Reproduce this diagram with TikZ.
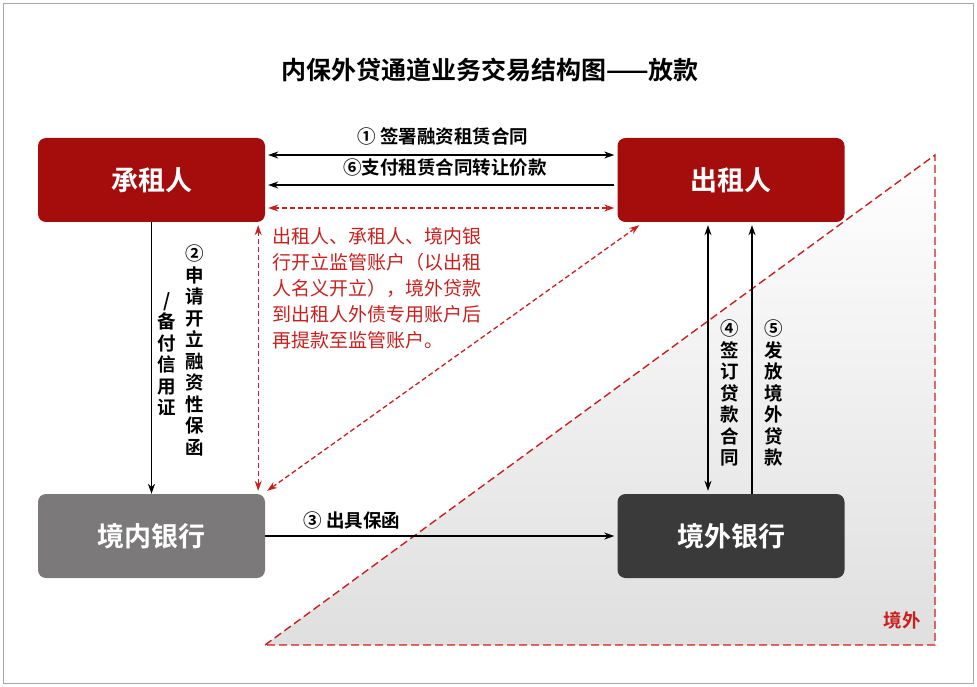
\documentclass[tikz,border=0pt]{standalone}
\usepackage{fontspec}
\setmainfont{Noto Sans CJK SC}
\newfontfamily\cjkb{Noto Sans CJK SC Bold}
\usetikzlibrary{arrows.meta}
\definecolor{dred}{HTML}{A50D0D}
\definecolor{lred}{HTML}{C8201E}
\definecolor{gbank}{HTML}{7B7979}
\definecolor{dbank}{HTML}{3B3A3A}
\tikzset{
 box/.style={rounded corners=8pt,minimum width=227pt,minimum height=84pt,inner sep=0,text=white,font=\cjkb\fontsize{27}{27}\selectfont},
 arr/.style={-{Stealth[length=10pt,width=7pt]},line width=1.1pt},
 darr/.style={{Stealth[length=10pt,width=7pt]}-{Stealth[length=10pt,width=7pt]},line width=1.1pt},
 rarr/.style={darr,lred,dash pattern=on 5pt off 3pt,line width=1.3pt},
 lab/.style={font=\cjkb\fontsize{18.5}{18.5}\selectfont,inner sep=0},
 vlab/.style={font=\cjkb\fontsize{18.5}{21.5}\selectfont,align=center,inner sep=0,anchor=north},
}
\begin{document}
\begin{tikzpicture}[x=1pt,y=-1pt]
\useasboundingbox (0,0) rectangle (977,687);
\draw[gray!70,line width=0.8pt] (3,3) rectangle (973,683);
\node[font=\cjkb\fontsize{25}{25}\selectfont] (title) at (490,70) {内保外贷通道业务交易结构图——放款};
\shade[bottom color=gray!25,top color=white,shading angle=0] (265,645) -- (935,155) -- (935,645) -- cycle;
\draw[lred,dash pattern=on 8pt off 4pt,line width=1.4pt] (265,645) -- (935,155) -- (935,645) -- cycle;
\node[lab,text=lred] (jw) at (902,620) {境外};
\node[box,fill=dred] (A) at (151.5,180) {承租人};
\node[box,fill=dred] (B) at (731,180) {出租人};
\node[box,fill=gbank] (C) at (151.5,536) {境内银行};
\node[box,fill=dbank] (D) at (731,536) {境外银行};
\draw[darr] ([yshift=25pt,xshift=3pt]A.east) -- ([yshift=25pt,xshift=-3pt]B.west);
\node[lab] (l1) at (443,136) {① 签署融资租赁合同};
\draw[arr] ([yshift=-5pt,xshift=-3pt]B.west) -- ([yshift=-5pt,xshift=3pt]A.east);
\node[lab] (l6) at (445,168) {⑥支付租赁合同转让价款};
\draw[rarr] ([yshift=-28pt,xshift=3pt]A.east) -- ([yshift=-28pt,xshift=-3pt]B.west);
\draw[rarr] ([xshift=-7pt,yshift=-3pt]A.south east) -- ([xshift=-7pt,yshift=3pt]C.north east);
\draw[rarr] ([yshift=3pt,xshift=2pt]C.north east) -- ([xshift=22pt,yshift=-3pt]B.south west);
\node[text=lred,font=\fontsize{19}{26}\selectfont,align=left,anchor=north west,inner sep=0] (rt) at (272,227) {出租人、承租人、境内银\\行开立监管账户（以出租\\人名义开立），境外贷款\\到出租人外债专用账户后\\再提款至监管账户。};
\draw[arr] (A.south) -- (C.north);
\node[vlab] (v2) at (195,245) {②\\申\\请\\开\\立\\融\\资\\性\\保\\函};
\node[vlab] (v2b) at (167,292) {/\\备\\付\\信\\用\\证};
\draw[arr] (C.east) -- ([xshift=-3pt]D.west);
\node[lab] (l3) at (352,520) {③ 出具保函};
\draw[darr] ([xshift=-23pt,yshift=-3pt]B.south) -- ([xshift=-23pt,yshift=3pt]D.north);
\draw[arr] ([xshift=21pt]D.north) -- ([xshift=21pt,yshift=-3pt]B.south);
\node[vlab] (v4) at (730,320) {④\\签\\订\\贷\\款\\合\\同};
\node[vlab] (v5) at (774,320) {⑤\\发\\放\\境\\外\\贷\\款};
\end{tikzpicture}
\end{document}
